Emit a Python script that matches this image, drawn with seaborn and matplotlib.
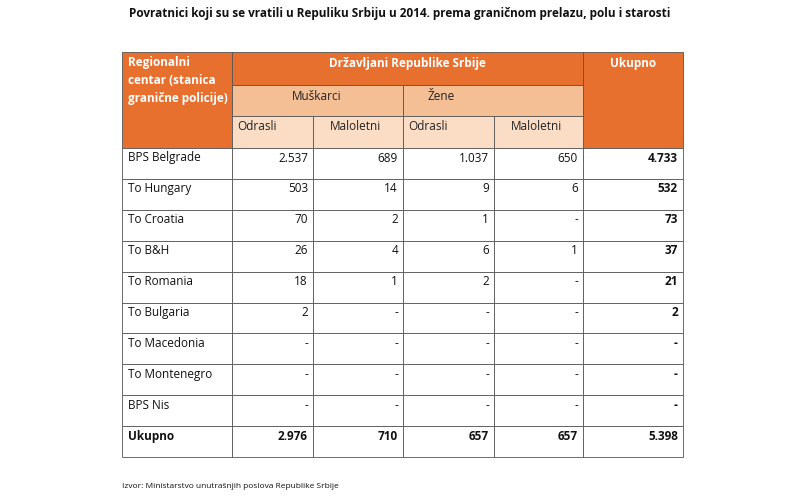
import matplotlib
matplotlib.use("Agg")
import matplotlib.pyplot as plt
import seaborn as sns
from matplotlib.patches import Rectangle

sns.set_style("white")
plt.rcParams['font.family'] = ['Open Sans', 'DejaVu Sans']

title = 'Povratnici koji su se vratili u Repuliku Srbiju u 2014. prema graničnom prelazu, polu i starosti'
source = 'Izvor: Ministarstvo unutrašnjih poslova Republike Srbije'

row_labels = ['BPS Belgrade', 'To Hungary', 'To Croatia', 'To B&H', 'To Romania',
              'To Bulgaria', 'To Macedonia', 'To Montenegro', 'BPS Nis', 'Ukupno']
muski_odrasli = ['2.537', '503', '70', '26', '18', '2', '-', '-', '-', '2.976']
muski_maloletni = ['689', '14', '2', '4', '1', '-', '-', '-', '-', '710']
zene_odrasli = ['1.037', '9', '1', '6', '2', '-', '-', '-', '-', '657']
zene_maloletni = ['650', '6', '-', '1', '-', '-', '-', '-', '-', '657']
ukupno = ['4.733', '532', '73', '37', '21', '2', '-', '-', '-', '5.398']

orange = '#E8702F'
salmon = '#F5BF96'
light = '#FBDCC4'
line = '#555555'

xs = [122, 232, 313, 403, 494, 583, 683]
y_top, y1, y2, y3 = 52, 85, 116, 148
y_end = 457
rh = (y_end - y3) / len(row_labels)

fig = plt.figure(figsize=(8, 5), dpi=100)
ax = fig.add_axes([0, 0, 1, 1])
ax.set_xlim(0, 800)
ax.set_ylim(500, 0)
ax.axis('off')

def cell(x0, y0, x1, y1_, fc):
    ax.add_patch(Rectangle((x0, y0), x1 - x0, y1_ - y0, facecolor=fc, edgecolor=line, lw=0.6))

# header
cell(xs[0], y_top, xs[1], y3, orange)
cell(xs[1], y_top, xs[5], y1, orange)
cell(xs[5], y_top, xs[6], y3, orange)
cell(xs[1], y1, xs[3], y2, salmon)
cell(xs[3], y1, xs[5], y2, salmon)
for i in range(1, 5):
    cell(xs[i], y2, xs[i + 1], y3, light)

hdr = dict(color='white', fontsize=8.5, fontweight='bold')
ax.text(xs[0] + 6, y_top + 4, 'Regionalni\ncentar (stanica\ngranične policije)', va='top', ha='left', linespacing=1.5, **hdr)
ax.text((xs[1] + xs[5]) / 2, y_top + 11, 'Državljani Republike Srbije', ha='center', va='center', **hdr)
ax.text((xs[5] + xs[6]) / 2, y_top + 11, 'Ukupno', ha='center', va='center', **hdr)
ax.text(xs[1] + 60, y1 + 11, 'Muškarci', ha='left', va='center', fontsize=8.5, color='#222222')
ax.text(xs[3] + 25, y1 + 11, 'Žene', ha='left', va='center', fontsize=8.5, color='#222222')
for i, lab in enumerate(['Odrasli', 'Maloletni', 'Odrasli', 'Maloletni']):
    ax.text(xs[i + 1] + 5 if i % 2 == 0 else xs[i + 1] + 17, y2 + 11, lab, ha='left', va='center', fontsize=8.5, color='#222222')

cols = [muski_odrasli, muski_maloletni, zene_odrasli, zene_maloletni, ukupno]
for r, lab in enumerate(row_labels):
    y0 = y3 + r * rh
    for i in range(6):
        cell(xs[i], y0, xs[i + 1], y0 + rh, 'white')
    last = r == len(row_labels) - 1
    yc = y0 + 10
    ax.text(xs[0] + 6, yc, lab, ha='left', va='center', fontsize=8.5,
            fontweight='bold' if last else 'normal', color='#111111')
    for c, vals in enumerate(cols):
        ax.text(xs[c + 2] - 5, yc, vals[r], ha='right', va='center', fontsize=8.5,
                fontweight='bold' if (last or c == 4) else 'normal', color='#111111')

ax.text(400, 14, title, ha='center', va='center', fontsize=8.5, fontweight='bold', color='#111111')
ax.text(122, 486, source, ha='left', va='center', fontsize=6, color='#111111')

fig.savefig('out.png', dpi=100)
